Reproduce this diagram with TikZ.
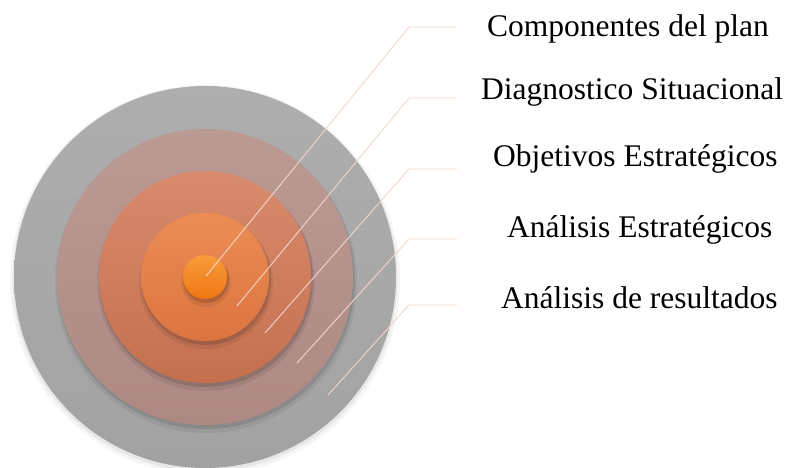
\documentclass[tikz,border=0pt]{standalone}
\usepackage{fontspec}
\setmainfont{Liberation Serif}
\definecolor{gA}{HTML}{AEAEAE}
\definecolor{gB}{HTML}{A2A2A2}
\definecolor{pA}{HTML}{BC9A94}
\definecolor{pB}{HTML}{AE8983}
\definecolor{sA}{HTML}{D98B6D}
\definecolor{sB}{HTML}{C4704F}
\definecolor{oA}{HTML}{EC8D55}
\definecolor{oB}{HTML}{DC7440}
\definecolor{cA}{HTML}{F89C3C}
\definecolor{cB}{HTML}{F07612}
\definecolor{leadc}{HTML}{F2D6CA}
\begin{document}
\begin{tikzpicture}[x=1pt,y=-1pt,
  ring/.style={circle, inner sep=0pt, draw=none, minimum size=#1},
  shade/.style={circle, inner sep=0pt, draw=none, fill=black, minimum size=#1},
  leader/.style={draw=leadc, line width=0.9pt},
  lbl/.style={anchor=base west, inner sep=0pt, font=\fontsize{31.5}{36}\selectfont}]
\useasboundingbox (0,0) rectangle (790,468);
\coordinate (c) at (205,277);
% outer soft shadow
\node[shade=390pt, opacity=0.04] at (205,280) {};
\node[shade=385pt, opacity=0.06] at (205,279) {};
\node[ring=382pt, top color=gA, bottom color=gB] (r1) at (c) {};
% ring 2
\node[shade=302pt, opacity=0.06] at (206,282) {};
\node[shade=298pt, opacity=0.10] at (206,280) {};
\node[ring=296pt, top color=pA, bottom color=pB] (r2) at (c) {};
% ring 3
\node[shade=218pt, opacity=0.07] at (206,282) {};
\node[shade=214pt, opacity=0.12] at (206,280) {};
\node[ring=212pt, top color=sA, bottom color=sB] (r3) at (c) {};
% ring 4
\node[shade=134pt, opacity=0.07] at (206,282) {};
\node[shade=130pt, opacity=0.12] at (206,280) {};
\node[ring=128pt, top color=oA, bottom color=oB] (r4) at (c) {};
% center
\node[shade=50pt, opacity=0.08] at (206,282) {};
\node[shade=46pt, opacity=0.14] at (206,280) {};
\node[ring=44pt, top color=cA, bottom color=cB] (r5) at (c) {};
% leader points
\coordinate (s1) at (206,276); \coordinate (e1) at (409,27);  \coordinate (h1) at (457,27);
\coordinate (s2) at (237,306); \coordinate (e2) at (409,98);  \coordinate (h2) at (457,98);
\coordinate (s3) at (265,333); \coordinate (e3) at (409,169); \coordinate (h3) at (457,169);
\coordinate (s4) at (297,363); \coordinate (e4) at (409,239); \coordinate (h4) at (457,239);
\coordinate (s5) at (328,395); \coordinate (e5) at (409,305); \coordinate (h5) at (457,305);
\draw[leader] (s1) -- (e1) -- (h1);
\draw[leader] (s2) -- (e2) -- (h2);
\draw[leader] (s3) -- (e3) -- (h3);
\draw[leader] (s4) -- (e4) -- (h4);
\draw[leader] (s5) -- (e5) -- (h5);
% labels
\node[lbl] (t1) at (487,37)  {Componentes del plan};
\node[lbl] (t2) at (481,100) {Diagnostico Situacional};
\node[lbl] (t3) at (493,167) {Objetivos Estratégicos};
\node[lbl] (t4) at (507,237) {Análisis Estratégicos};
\node[lbl] (t5) at (501,308) {Análisis de resultados};
\end{tikzpicture}
\end{document}
